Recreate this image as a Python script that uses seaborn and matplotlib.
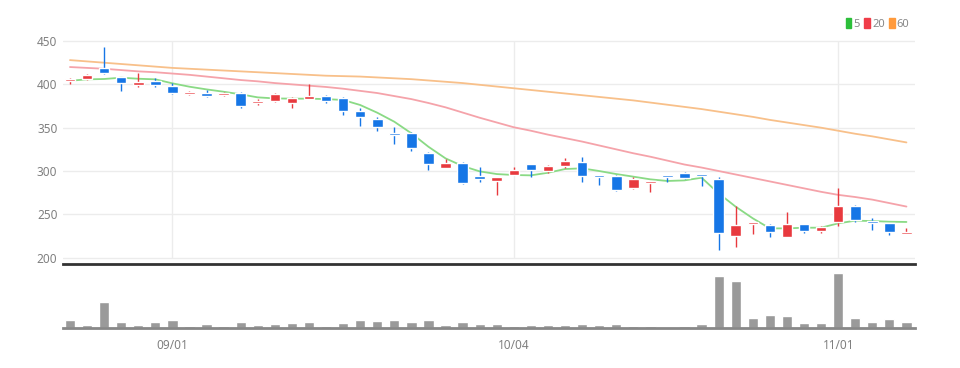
import numpy as np
import pandas as pd
import seaborn as sns
import matplotlib.pyplot as plt
from matplotlib.patches import Patch

sns.set_theme(style='white')
plt.rcParams['font.family'] = ['Noto Sans', 'DejaVu Sans']
plt.rcParams['font.stretch'] = 'extra-condensed'

# DATA (50 trading days)
opens = [403.5, 406, 419, 408, 399.6, 403.5, 398, 388.5, 389.6, 387.7,
         390.4, 378.1, 380.8, 378.1, 383, 386.5, 384.6, 369.6, 360, 342.7,
         343.5, 321.2, 303.5, 309.6, 294.2, 288.5, 295.4, 308, 299.6, 306.2,
         310.8, 294.6, 294.2, 280.8, 285.8, 294.6, 298.1, 296.5, 290.8, 225.4,
         238.5, 237.7, 224.2, 238.5, 230.8, 240.8, 259.6, 242, 239.6, 227.7]
highs = [407.5, 412.3, 443.5, 408.5, 412.7, 407.7, 401.9, 391.9, 393.5, 391.5,
         390.8, 383, 390.4, 385.8, 400.4, 387.7, 385.8, 372.3, 361.9, 350.4,
         345.4, 322.3, 314.2, 310.8, 304.2, 293, 305, 308.3, 307.3, 314.6,
         315.8, 294.9, 295.4, 293.5, 288.8, 294.9, 298.8, 296.8, 292.7, 260,
         240.4, 238.8, 252.3, 238.8, 236.5, 280.8, 260.4, 246.2, 240.4, 234.6]
lows = [401, 405, 412.5, 392.7, 396.5, 397.3, 388.5, 387.7, 385, 387,
        373.1, 376.5, 380, 373.1, 382.7, 378.8, 364.6, 351.9, 346.2, 331.2,
        323, 301.2, 303.1, 285, 287.7, 272.3, 295, 293.5, 298, 303.1,
        287.7, 283.8, 277.3, 279.6, 276.2, 287.7, 290.8, 283, 208.8, 212.7,
        226.9, 224.2, 223.5, 228.1, 228.1, 236.9, 241.5, 232, 226.2, 226.9]
closes = [405.5, 411, 413, 401.2, 402.7, 399.2, 389.6, 391.2, 386.2, 390.4,
          375, 381.2, 388.5, 383.8, 386.5, 380.4, 369.2, 361.9, 351.2, 341.2,
          326.9, 308.1, 308.8, 286.5, 291.2, 292.7, 301.2, 301.2, 306.2, 311.5,
          294.2, 293.5, 278.1, 290.4, 288.1, 293.5, 291.5, 294.6, 228.1, 237.7,
          240.4, 229.2, 238.5, 231.2, 235, 260, 243.5, 240.4, 230, 229.6]
volume = [77, 30, 263, 57, 30, 57, 80, 23, 40, 23,
          57, 30, 40, 47, 60, 23, 47, 80, 73, 80,
          57, 80, 30, 60, 43, 40, 23, 30, 30, 30,
          40, 30, 40, 23, 23, 13, 23, 40, 523, 473,
          97, 130, 123, 47, 47, 550, 97, 63, 93, 60]
ma5 = [404.2, 405.8, 406.2, 407.7, 406.5, 405.8, 401.2, 397.3, 394.2, 391.5,
       388.5, 385, 383.8, 383.5, 383.5, 383, 382, 376.2, 367.3, 356.9,
       343.5, 328, 314.6, 305.8, 299.6, 296.5, 295.4, 295, 298, 302.3,
       303.1, 300, 296.5, 293.5, 290.4, 288.5, 289.2, 292.3, 274.2, 258.8,
       245.4, 233.8, 233.8, 234.6, 234.6, 239.6, 242.7, 242.3, 241.5, 241.2]
ma20 = [420, 419, 418, 416.5, 415, 414, 412.5, 411, 409, 407,
        405, 403.5, 401.5, 400, 398.5, 397, 395, 392.5, 390, 386.5,
        383, 378.5, 373.5, 367.5, 361.5, 356, 350.5, 346.5, 342, 338,
        334, 329.5, 325, 320.5, 316.5, 312, 307.5, 304, 300, 296,
        292, 288, 284, 280, 276, 272.5, 270, 267, 263, 259]
ma60 = [428, 426.5, 425, 423.5, 422, 420.5, 419, 418, 417, 416,
        415, 414, 413, 412, 411, 410, 409.5, 409, 408, 407,
        406, 404.5, 403, 401.5, 399.5, 397.5, 395.5, 393.5, 391.5, 389.5,
        387.5, 385.5, 383.5, 381.5, 379, 376.5, 374, 371.5, 368.5, 365.5,
        362.5, 359, 356, 353, 350, 346.5, 343, 340, 336.5, 333]
tick_pos = [6, 26, 45]
tick_labels = ['09/01', '10/04', '11/01']
price_ticks = [200, 250, 300, 350, 400, 450]

df = pd.DataFrame({'open': opens, 'high': highs, 'low': lows, 'close': closes,
                   'volume': volume, 'ma5': ma5, 'ma20': ma20, 'ma60': ma60})
df['idx'] = np.arange(len(df))
up = df['close'] >= df['open']

RED = '#e8393e'
BLUE = '#1676e6'
colors = np.where(up, RED, BLUE)

fig = plt.figure(figsize=(9.6, 3.68), dpi=100)
ax = fig.add_axes([0.0656, 0.2826, 0.8875, 0.6087])
vax = fig.add_axes([0.0656, 0.1087, 0.8875, 0.163], sharex=ax)

# price panel
ax.set_ylim(192.7, 451.2)
ax.set_xlim(-0.41, 49.5)
ax.set_yticks(price_ticks)
ax.grid(axis='y', color='#ececec', lw=1)
ax.vlines(tick_pos, 200, 450, color='#ececec', lw=1, zorder=0)

sns.lineplot(data=df, x='idx', y='ma60', ax=ax, color='#f8c08a', lw=1.3, zorder=2)
sns.lineplot(data=df, x='idx', y='ma20', ax=ax, color='#f5a3aa', lw=1.3, zorder=2)
sns.lineplot(data=df, x='idx', y='ma5', ax=ax, color='#8ada85', lw=1.3, zorder=2)

ax.vlines(df['idx'], df['low'], df['high'], colors=colors, lw=1, zorder=3)
body = np.maximum((df['close'] - df['open']).abs(), 2.2)
bottom = np.minimum(df['open'], df['close'])
ax.bar(df['idx'], body, bottom=bottom, width=0.62, color=colors, zorder=4)

for s in ['top', 'right', 'left']:
    ax.spines[s].set_visible(False)
ax.spines['bottom'].set_color('#333333')
ax.spines['bottom'].set_linewidth(2)
ax.tick_params(axis='y', length=0, pad=4, labelsize=8.5, labelcolor='#808080')
ax.tick_params(axis='x', length=0, labelbottom=False)
ax.set_xlabel('')
ax.set_ylabel('')

# volume panel
vax.bar(df['idx'], df['volume'], width=0.6, color='#9a9a9a', zorder=2)
vax.set_ylim(0, max(volume) * 60 / 55)
vax.set_yticks([])
for s in ['top', 'right', 'left']:
    vax.spines[s].set_visible(False)
vax.spines['bottom'].set_color('#888888')
vax.spines['bottom'].set_linewidth(2)
vax.set_xticks(tick_pos)
vax.set_xticklabels(tick_labels)
vax.tick_params(axis='x', length=4, width=1, color='#333333', pad=4,
                labelsize=8.5, labelcolor='#808080')
vax.set_xlabel('')
vax.set_ylabel('')

handles = [Patch(color='#2cbf3a', label='5'),
           Patch(color='#f03c48', label='20'),
           Patch(color='#ff9a3c', label='60')]
fig.legend(handles=handles, loc='upper right', bbox_to_anchor=(0.952, 0.962),
           ncol=3, frameon=False, fontsize=8, handlelength=0.5, handleheight=0.9,
           handletextpad=0.2, columnspacing=0.4, labelcolor='#888888',
           borderaxespad=0)

fig.savefig('out.png', dpi=100, facecolor='white')
